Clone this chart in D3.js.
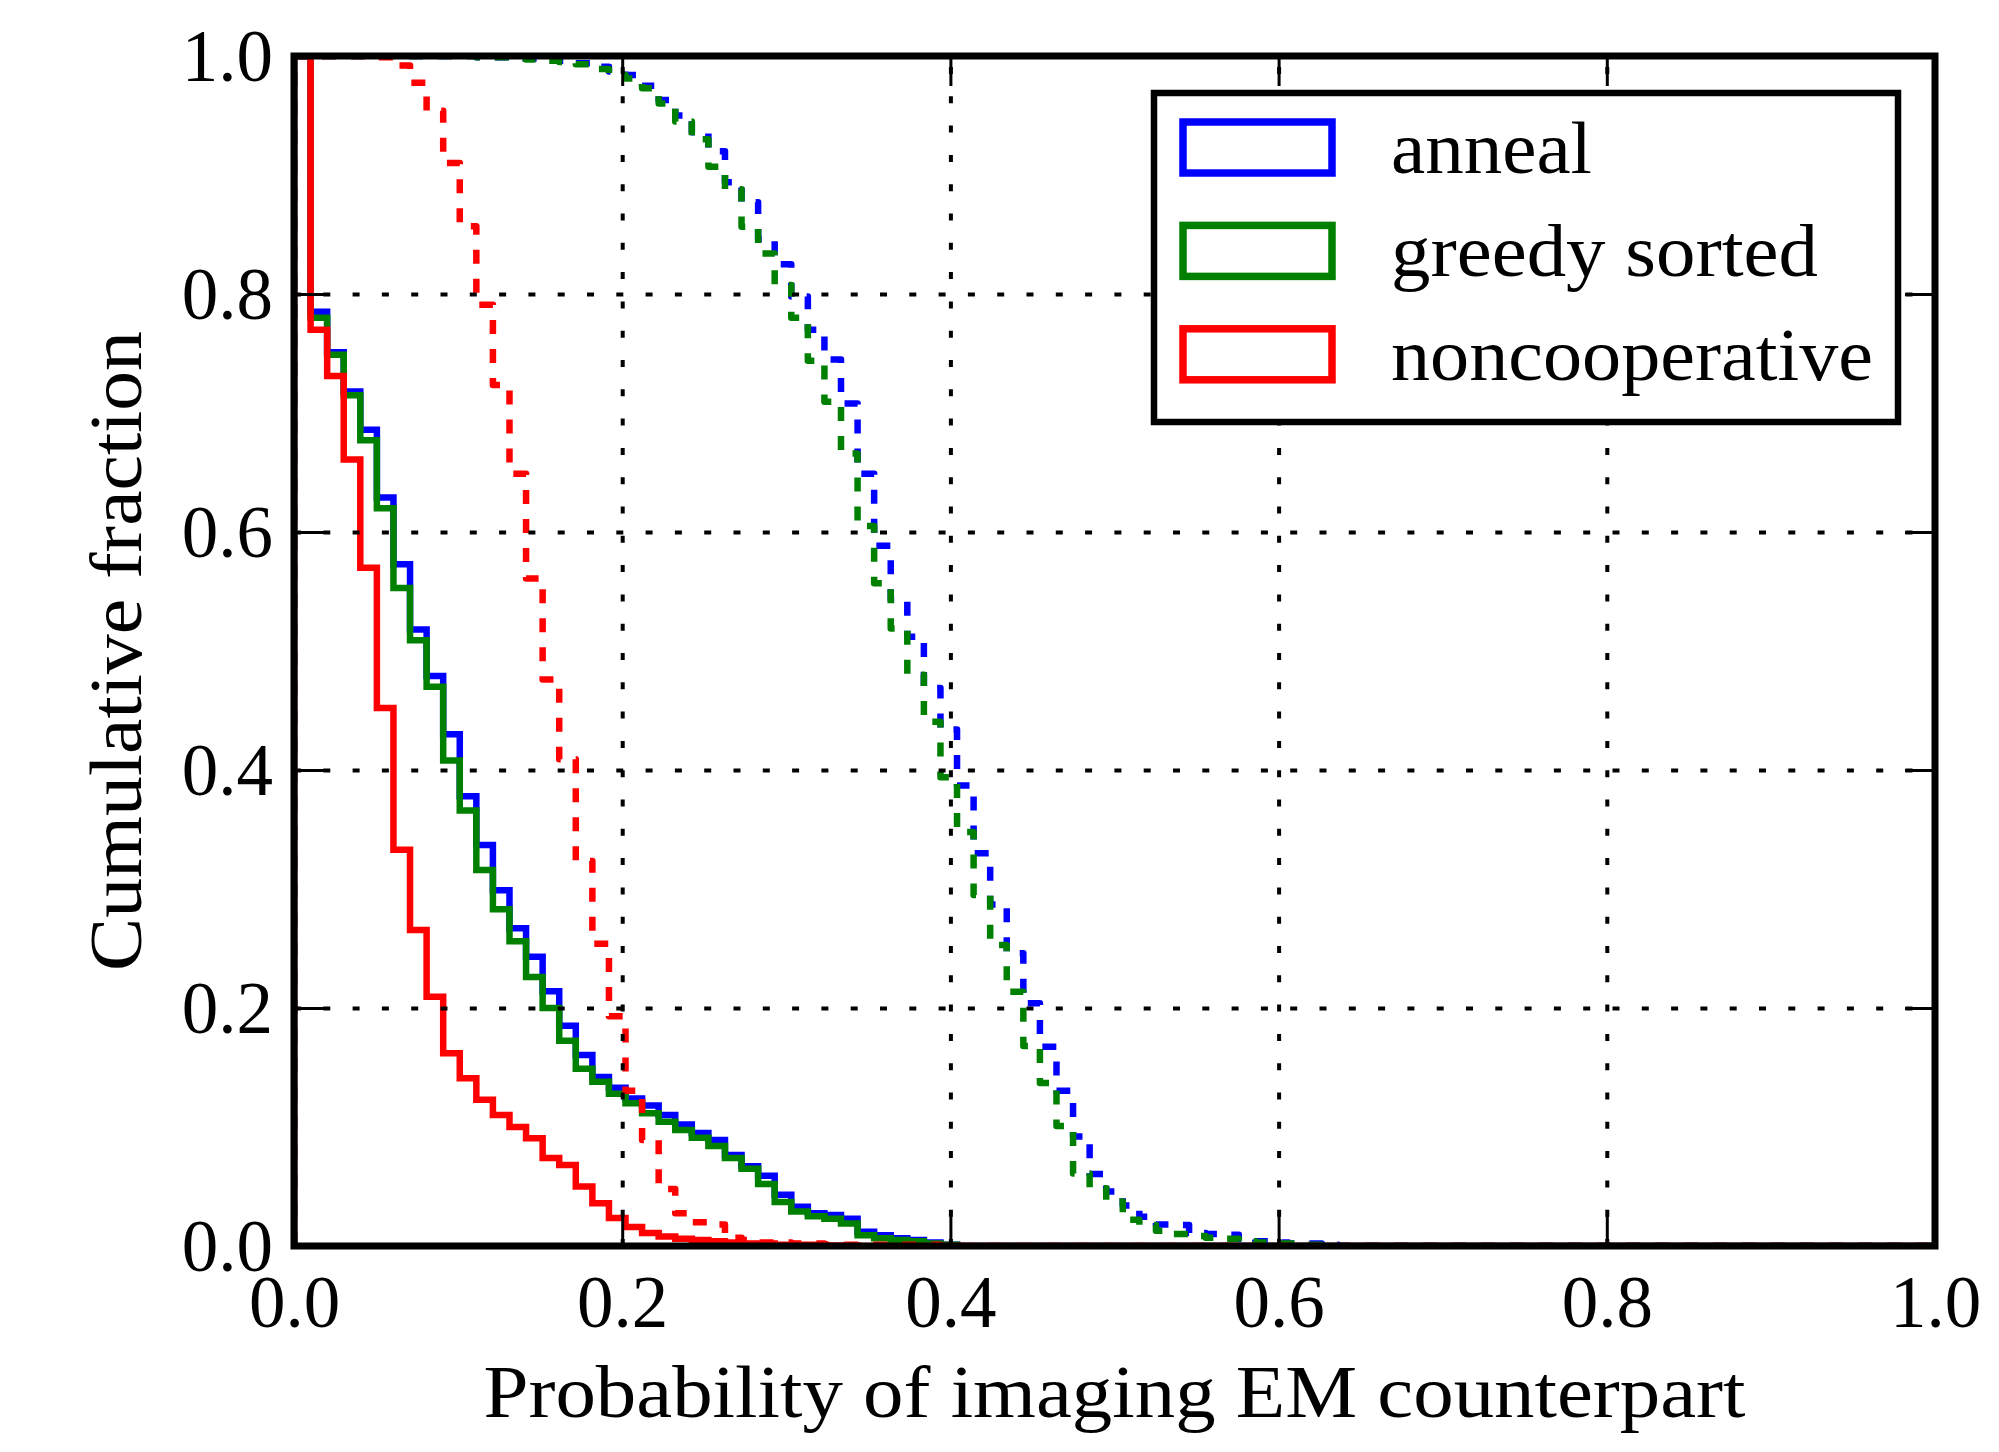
<!DOCTYPE html>
<html>
<head>
<meta charset="utf-8">
<script src="https://cdn.jsdelivr.net/npm/d3@7"></script>
<style>
  body { margin: 0; background: #ffffff; }
  text { font-family: "Liberation Serif", "Times New Roman", serif; fill: #000; }
</style>
</head>
<body>
<script>
// DATA PLOTTING AND VISUALISATION

// Needed Variables
const width = 1999;
const height = 1452;
const margin = {top: 56, right: 64, bottom: 206, left: 294};

// Data: reverse cumulative histograms, 99 equal bins between 0 and 1
const binCount = 99;

  // solid lines
const annealSolid = [1.0, 0.785, 0.751, 0.718, 0.686, 0.629, 0.573, 0.518, 0.479, 0.430,
  0.378, 0.337, 0.299, 0.267, 0.243, 0.214, 0.185, 0.1605, 0.142, 0.133,
  0.124, 0.118, 0.110, 0.102, 0.095, 0.089, 0.0765, 0.067, 0.059, 0.043,
  0.033, 0.0275, 0.026, 0.023, 0.012, 0.009, 0.0066, 0.005, 0.003, 0.001];
const greedySolid = [1.0, 0.780, 0.749, 0.715, 0.677, 0.620, 0.553, 0.509, 0.470, 0.408,
  0.366, 0.316, 0.283, 0.256, 0.226, 0.200, 0.1725, 0.149, 0.138, 0.128,
  0.120, 0.1115, 0.1045, 0.0975, 0.091, 0.084, 0.074, 0.065, 0.052, 0.037,
  0.029, 0.025, 0.023, 0.019, 0.009, 0.0066, 0.005, 0.004, 0.002, 0.001];
const noncoopSolid = [1.0, 0.770, 0.731, 0.661, 0.570, 0.452, 0.333, 0.2655, 0.2095, 0.162,
  0.141, 0.123, 0.110, 0.100, 0.0905, 0.074, 0.068, 0.050, 0.036, 0.0235,
  0.016, 0.011, 0.008, 0.006, 0.005, 0.004, 0.003, 0.002, 0.002, 0.001,
  0.001, 0.001, 0.0005, 0.0005];

  // dashed lines
const annealDashed = [1, 1, 1, 1, 1, 1, 1, 1, 1, 1,
  1, 0.999, 0.999, 0.998, 0.998, 0.997, 0.996, 0.994, 0.991, 0.987,
  0.984, 0.975, 0.963, 0.950, 0.936, 0.920, 0.894, 0.877, 0.846, 0.825,
  0.798, 0.770, 0.745, 0.708, 0.649, 0.5885, 0.543, 0.512, 0.469, 0.434,
  0.387, 0.330, 0.287, 0.246, 0.204, 0.1675, 0.1305, 0.092, 0.0605, 0.0457,
  0.034, 0.0246, 0.018, 0.0176, 0.011, 0.010, 0.0095, 0.006, 0.004, 0.003,
  0.002, 0.002, 0.001];
const greedyDashed = [1, 1, 1, 1, 1, 1, 1, 1, 1, 1,
  1, 0.999, 0.999, 0.998, 0.997, 0.996, 0.995, 0.993, 0.989, 0.984,
  0.981, 0.973, 0.960, 0.945, 0.930, 0.907, 0.888, 0.8565, 0.834, 0.8075,
  0.780, 0.744, 0.7095, 0.666, 0.605, 0.557, 0.519, 0.480, 0.4406, 0.394,
  0.348, 0.295, 0.253, 0.2137, 0.168, 0.137, 0.1008, 0.061, 0.0485, 0.0373,
  0.022, 0.0176, 0.0129, 0.010, 0.0084, 0.007, 0.006, 0.004, 0.003, 0.002,
  0.002, 0.001];
const noncoopDashed = [1, 1, 1, 1, 1, 0.999, 0.992, 0.9776, 0.954, 0.910,
  0.857, 0.791, 0.7235, 0.649, 0.561, 0.476, 0.409, 0.3235, 0.254, 0.193,
  0.1305, 0.089, 0.048, 0.0275, 0.020, 0.018, 0.007, 0.005, 0.003, 0.003,
  0.002, 0.002, 0.001, 0.001, 0.001, 0.001, 0.001, 0.001, 0.001];

  // ticks and labels
const xTicks = [0, 0.2, 0.4, 0.6, 0.8, 1.0];
const yTicks = [0, 0.2, 0.4, 0.6, 0.8, 1.0];
const gridTicks = [0.2, 0.4, 0.6, 0.8];
const legendLabels = ['anneal', 'greedy sorted', 'noncooperative'];
const legendColors = ['#0000ff', '#008000', '#ff0000'];
const xLabel = 'Probability of imaging EM counterpart';
const yLabel = 'Cumulative fraction';

// Series in drawing order (later ones on top)
const series = [
  {values: annealSolid,   color: '#0000ff', dashed: false},
  {values: greedySolid,   color: '#008000', dashed: false},
  {values: noncoopSolid,  color: '#ff0000', dashed: false},
  {values: annealDashed,  color: '#0000ff', dashed: true},
  {values: greedyDashed,  color: '#008000', dashed: true},
  {values: noncoopDashed, color: '#ff0000', dashed: true}
];

// Create Necessary HTML Elements
d3.select('body')
  .append('svg')
  .classed('DataVisualisation', true)
  .attr('height', height)
  .attr('width', width)
  ;

var svg = d3.select('svg');

// Scales
const plotW = width - margin.left - margin.right;
const plotH = height - margin.top - margin.bottom;

var xScale = d3.scaleLinear().domain([0, 1]).range([margin.left, width - margin.right]);
var yScale = d3.scaleLinear().domain([0, 1]).range([height - margin.bottom, margin.top]);

// Outline of a step histogram: up from zero, across every bin, down, along zero to 1
var stepPoints = function(values){
  var pts = [{x: 0, y: 0}];
  values.forEach((v, i) => pts.push({x: i / binCount, y: v}));
  pts.push({x: values.length / binCount, y: 0});
  pts.push({x: 1, y: 0});
  return pts;
}

var line = d3.line()
  .x(d => xScale(d.x))
  .y(d => yScale(d.y))
  .curve(d3.curveStepAfter)
  ;

// Clip to the axes box
svg.append('clipPath')
  .attr('id', 'plotClip')
  .append('rect')
  .attr('x', xScale(0))
  .attr('y', yScale(1))
  .attr('width', xScale(1) - xScale(0))
  .attr('height', yScale(0) - yScale(1))
  ;

// Draw the histograms
svg.append('g')
  .classed('lines', true)
  .attr('clip-path', 'url(#plotClip)')
  .selectAll('path')
  .data(series)
  .join('path')
  .attr('d', d => line(stepPoints(d.values)))
  .attr('fill', 'none')
  .attr('stroke', d => d.color)
  .attr('stroke-width', 6.5)
  .attr('stroke-dasharray', d => d.dashed ? '14,15' : null)
  .attr('stroke-linejoin', d => d.dashed ? 'round' : 'miter')
  .attr('stroke-linecap', 'butt')
  ;

// Dotted grid
svg.append('g')
  .classed('xgrid', true)
  .attr('transform', 'translate(0,' + yScale(0) + ')')
  .call(d3.axisBottom(xScale).tickValues(gridTicks).tickSize(-plotH).tickFormat(''))
  .call(g => g.select('.domain').remove())
  ;
svg.append('g')
  .classed('ygrid', true)
  .attr('transform', 'translate(' + xScale(0) + ',0)')
  .call(d3.axisLeft(yScale).tickValues(gridTicks).tickSize(-plotW).tickFormat(''))
  .call(g => g.select('.domain').remove())
  ;
svg.selectAll('.xgrid line, .ygrid line')
  .attr('stroke', '#000')
  .attr('stroke-width', 4)
  .attr('stroke-dasharray', '7,22.3')
  ;

// Axes with inward ticks on all four sides
const tickLen = 30;
const fmt = d3.format('.1f');

svg.append('g')
  .classed('xaxis', true)
  .attr('transform', 'translate(0,' + yScale(0) + ')')
  .call(d3.axisBottom(xScale).tickValues(xTicks).tickSizeInner(-tickLen).tickSizeOuter(0).tickFormat(fmt))
  ;
svg.select('.xaxis').selectAll('text')
  .attr('y', 81)
  .attr('dy', null)
  ;

svg.append('g')
  .classed('xaxisTop', true)
  .attr('transform', 'translate(0,' + yScale(1) + ')')
  .call(d3.axisTop(xScale).tickValues(xTicks).tickSizeInner(-tickLen).tickSizeOuter(0).tickFormat(''))
  ;

svg.append('g')
  .classed('yaxis', true)
  .attr('transform', 'translate(' + xScale(0) + ',0)')
  .call(d3.axisLeft(yScale).tickValues(yTicks).tickSizeInner(-tickLen).tickSizeOuter(0).tickFormat(fmt))
  ;
svg.select('.yaxis').selectAll('text')
  .attr('x', -21)
  .attr('dy', '0.33em')
  ;

svg.append('g')
  .classed('yaxisRight', true)
  .attr('transform', 'translate(' + xScale(1) + ',0)')
  .call(d3.axisRight(yScale).tickValues(yTicks).tickSizeInner(-tickLen).tickSizeOuter(0).tickFormat(''))
  ;

svg.selectAll('.xaxis, .xaxisTop, .yaxis, .yaxisRight')
  .call(g => g.select('.domain').remove())
  .attr('font-family', null)
  .attr('font-size', null)
  ;
svg.selectAll('.xaxis line, .xaxisTop line, .yaxis line, .yaxisRight line')
  .attr('stroke', '#000')
  .attr('stroke-width', 3)
  ;
svg.selectAll('.xaxis text, .yaxis text')
  .style('font-size', '73px')
  ;

// Spines
svg.append('rect')
  .classed('frame', true)
  .attr('x', xScale(0))
  .attr('y', yScale(1))
  .attr('width', xScale(1) - xScale(0))
  .attr('height', yScale(0) - yScale(1))
  .attr('fill', 'none')
  .attr('stroke', '#000')
  .attr('stroke-width', 7)
  ;

// Axis titles
svg.append('text')
  .attr('x', (xScale(0) + xScale(1)) / 2)
  .attr('y', 1417)
  .attr('text-anchor', 'middle')
  .attr('textLength', 1262)
  .attr('lengthAdjust', 'spacingAndGlyphs')
  .style('font-size', '74px')
  .text(xLabel)
  ;

svg.append('text')
  .attr('transform', 'translate(141,' + (yScale(0) + yScale(1)) / 2 + ') rotate(-90)')
  .attr('text-anchor', 'middle')
  .attr('textLength', 640)
  .attr('lengthAdjust', 'spacingAndGlyphs')
  .style('font-size', '74px')
  .text(yLabel)
  ;

// Legend
var legend = svg.append('g').classed('legend', true);

legend.append('rect')
  .attr('x', 1154)
  .attr('y', 93)
  .attr('width', 744)
  .attr('height', 329)
  .attr('fill', '#fff')
  .attr('stroke', '#000')
  .attr('stroke-width', 6.5)
  ;

const legendWidths = [201, 427, 482];
var items = legend.selectAll('.item')
  .data(legendLabels)
  .join('g')
  .classed('item', true)
  .attr('transform', (d, i) => 'translate(0,' + (i * 103.4) + ')')
  ;

items.append('rect')
  .attr('x', 1183)
  .attr('y', 122)
  .attr('width', 149)
  .attr('height', 51)
  .attr('fill', 'none')
  .attr('stroke', (d, i) => legendColors[i])
  .attr('stroke-width', 7.5)
  ;

items.append('text')
  .attr('x', 1391)
  .attr('y', 173)
  .attr('textLength', (d, i) => legendWidths[i])
  .attr('lengthAdjust', 'spacingAndGlyphs')
  .style('font-size', '74px')
  .text(d => d)
  ;
</script>
</body>
</html>
